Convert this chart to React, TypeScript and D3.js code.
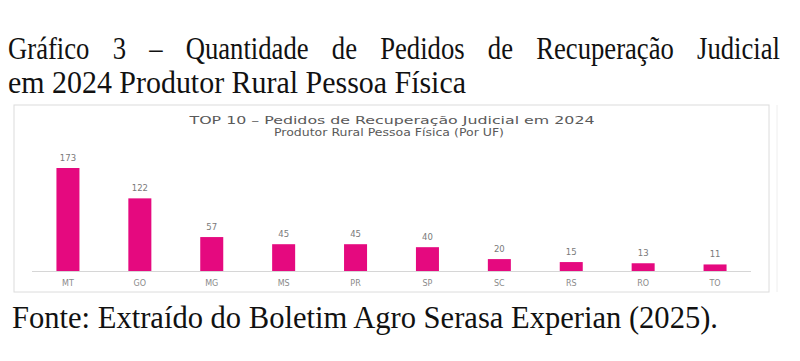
import React, { useEffect, useRef } from "react";
import * as d3 from "d3";

const categories = ["MT", "GO", "MG", "MS", "PR", "SP", "SC", "RS", "RO", "TO"];
const values = [173, 122, 57, 45, 45, 40, 20, 15, 13, 11];
const titleLine1 = "Gráfico 3 – Quantidade de Pedidos de Recuperação Judicial";
const titleLine2 = "em 2024 Produtor Rural Pessoa Física";
const chartTitle1 = "TOP 10 – Pedidos de Recuperação Judicial em 2024";
const chartTitle2 = "Produtor Rural Pessoa Física (Por UF)";
const sourceText = "Fonte: Extraído do Boletim Agro Serasa Experian (2025).";

const W = 800;
const H = 361;
const SERIF = "'Liberation Serif', 'Times New Roman', serif";
const SANS = "'DejaVu Sans', 'Liberation Sans', sans-serif";
const SQUEEZE = 0.86;
const TITLE_SIZE = 31;

export default function App() {
  const ref = useRef<SVGSVGElement>(null);

  const x = d3.scaleBand<string>().domain(categories).range([32, 751]).paddingInner(0.68).paddingOuter(0.34);
  const y = d3.scaleLinear().domain([0, d3.max(values) as number]).range([271, 168]);

  useEffect(() => {
    if (!ref.current) return;
    const g = d3.select(ref.current).select<SVGGElement>("g.just");
    g.selectAll("*").remove();
    const words = titleLine1.split(" ");
    const left = 8;
    const right = 780;
    const nodes = words.map((w) =>
      g
        .append("text")
        .attr("y", 59)
        .attr("font-family", SERIF)
        .attr("font-size", TITLE_SIZE)
        .attr("fill", "#111")
        .text(w)
    );
    const widths = nodes.map((n) => (n.node() as SVGTextElement).getComputedTextLength() * SQUEEZE);
    nodes.forEach((n, i) => n.attr("textLength", widths[i]).attr("lengthAdjust", "spacingAndGlyphs"));
    const total = d3.sum(widths);
    const gap = (right - left - total) / (words.length - 1);
    let cx = left;
    nodes.forEach((n, i) => {
      n.attr("x", cx);
      cx += widths[i] + gap;
    });
  }, []);

  return (
    <div style={{ position: "absolute", left: 0, top: 0 }}>
      <svg ref={ref} width={W} height={H} style={{ display: "block", background: "#fff" }}>
        <rect x={0} y={0} width={W} height={H} fill="#fff" />
        <g className="just" />
        <text x={8} y={93} fontFamily={SERIF} fontSize={TITLE_SIZE} fill="#111" textLength={458} lengthAdjust="spacingAndGlyphs">
          {titleLine2}
        </text>

        {/* chart frame */}
        <rect x={14} y={105} width={755} height={187} fill="#fff" stroke="#dcdcdc" strokeWidth={1} />
        <line x1={777} x2={777} y1={105} y2={292} stroke="#eeeeee" strokeWidth={1} />

        <text x={392} y={124} textAnchor="middle" fontFamily={SANS} fontSize={11} fill="#5a5a5a" textLength={405} lengthAdjust="spacingAndGlyphs">
          {chartTitle1}
        </text>
        <text x={389} y={136} textAnchor="middle" fontFamily={SANS} fontSize={11} fill="#5a5a5a" textLength={230} lengthAdjust="spacingAndGlyphs">
          {chartTitle2}
        </text>

        <line x1={32} x2={751} y1={271.5} y2={271.5} stroke="#d6d6d6" strokeWidth={1} />

        {categories.map((c, i) => {
          const bx = x(c) as number;
          const bw = x.bandwidth();
          const cxm = bx + bw / 2;
          return (
            <g key={c}>
              <rect x={bx} y={y(values[i])} width={bw} height={y(0) - y(values[i])} fill="#E5097F" />
              <text x={cxm} y={y(values[i]) - 7} textAnchor="middle" fontFamily={SANS} fontSize={8.5} fill="#7a7a7a">
                {values[i]}
              </text>
              <text x={cxm} y={286} textAnchor="middle" fontFamily={SANS} fontSize={8} fill="#8a8a8a">
                {c}
              </text>
            </g>
          );
        })}

        <text x={12} y={328} fontFamily={SERIF} fontSize={32} fill="#111" textLength={706} lengthAdjust="spacingAndGlyphs">
          {sourceText}
        </text>
      </svg>
    </div>
  );
}
